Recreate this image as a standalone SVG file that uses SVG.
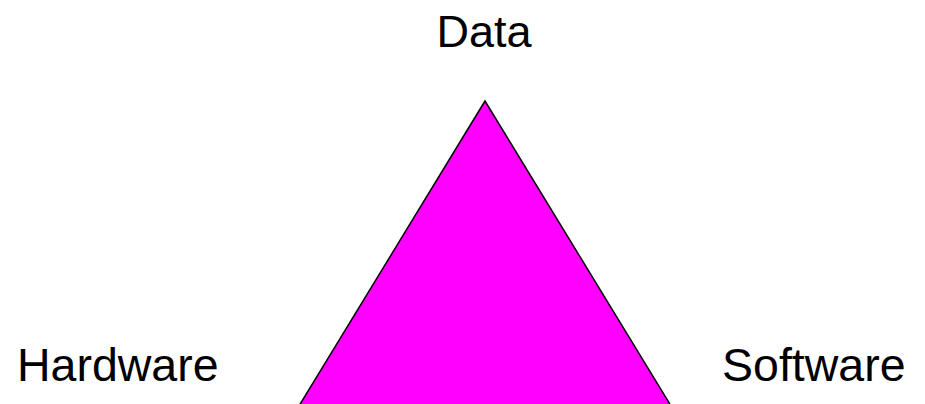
<svg xmlns="http://www.w3.org/2000/svg" width="925" height="404" viewBox="0 0 925 404">
<style>
.lbl{font-family:"Liberation Sans",Arial,sans-serif;font-size:45px;fill:#000}
.big{font-size:46.5px}
.tri{fill:#ff00ff;stroke:#000;stroke-width:1.5}
</style>
<rect width="925" height="404" fill="#fff"/>
<g id="triangle"><polygon class="tri" points="485,101 296.5,410 673.5,410"/></g>
<g id="data"><text class="lbl" x="484" y="47" text-anchor="middle">Data</text></g>
<g id="hardware"><text class="lbl big" x="17" y="381">Hardware</text></g>
<g id="software"><text class="lbl big" x="722" y="381">Software</text></g>
<g id="connectors"></g>
</svg>
